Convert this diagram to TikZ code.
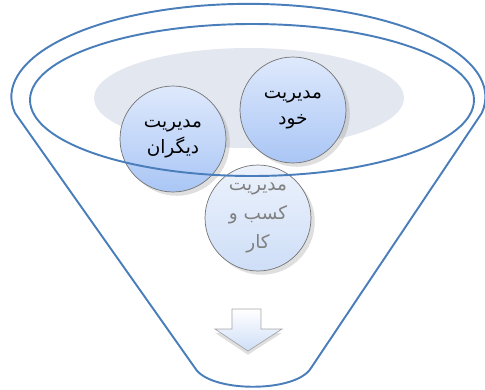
\documentclass[tikz,border=0pt]{standalone}
\usepackage{fontspec}
\newfontfamily\arabicfont[Script=Arabic]{DejaVu Sans}
\TeXXeTstate=1
\usetikzlibrary{shadows}
\definecolor{funnelblue}{RGB}{74,126,187}
\definecolor{haze}{RGB}{227,231,239}
\definecolor{bubbletop}{RGB}{222,233,252}
\definecolor{bubblebot}{RGB}{170,198,245}
\definecolor{paletop}{RGB}{236,242,252}
\definecolor{palebot}{RGB}{206,222,247}
\begin{document}
\begin{tikzpicture}[x=0.02cm, y=-0.02cm,
    funnel/.style={draw=funnelblue, line width=1.1pt},
    bubble/.style={circle, draw=black!55, thin, minimum size=2.12cm, inner sep=0pt, align=center,
        top color=bubbletop, bottom color=bubblebot, drop shadow={opacity=0.25},
        font={\arabicfont\fontsize{10.5}{15}\selectfont}},
    faint/.style={bubble, top color=paletop, bottom color=palebot, text=black!50,
        font={\arabicfont\fontsize{10.5}{16.5}\selectfont}}]
\useasboundingbox (0,0) rectangle (485,390);
\clip (0,0) rectangle (485,390);
\fill [haze] (249,98) ellipse (155 and 50);
\node [bubble] (digaran) at (173,139) {\beginR مدیریت\endR\\ \beginR دیگران\endR};
\node [bubble] (khod) at (293,110) {\beginR مدیریت\endR\\ \beginR خود\endR};
\node [faint] (kasb) at (258,218) {\beginR مدیریت\endR\\ \beginR کسب و\endR\\ \beginR کار\endR};
% funnel
\draw [funnel] (15,113) arc[start angle=170, end angle=370, x radius=237, y radius=93]
    -- (311,368) .. controls (296,393) and (210,393) .. (195,368) -- cycle;
\draw [funnel] (252,100) ellipse (222 and 76);
% arrow
\draw [draw=black!35, top color=white, bottom color=palebot, drop shadow={opacity=0.25, shadow xshift=0pt}]
    (232,309) -- (261,309) -- (261,329) -- (282,329) -- (248,351) -- (215,329) -- (232,329) -- cycle;
\end{tikzpicture}
\end{document}
